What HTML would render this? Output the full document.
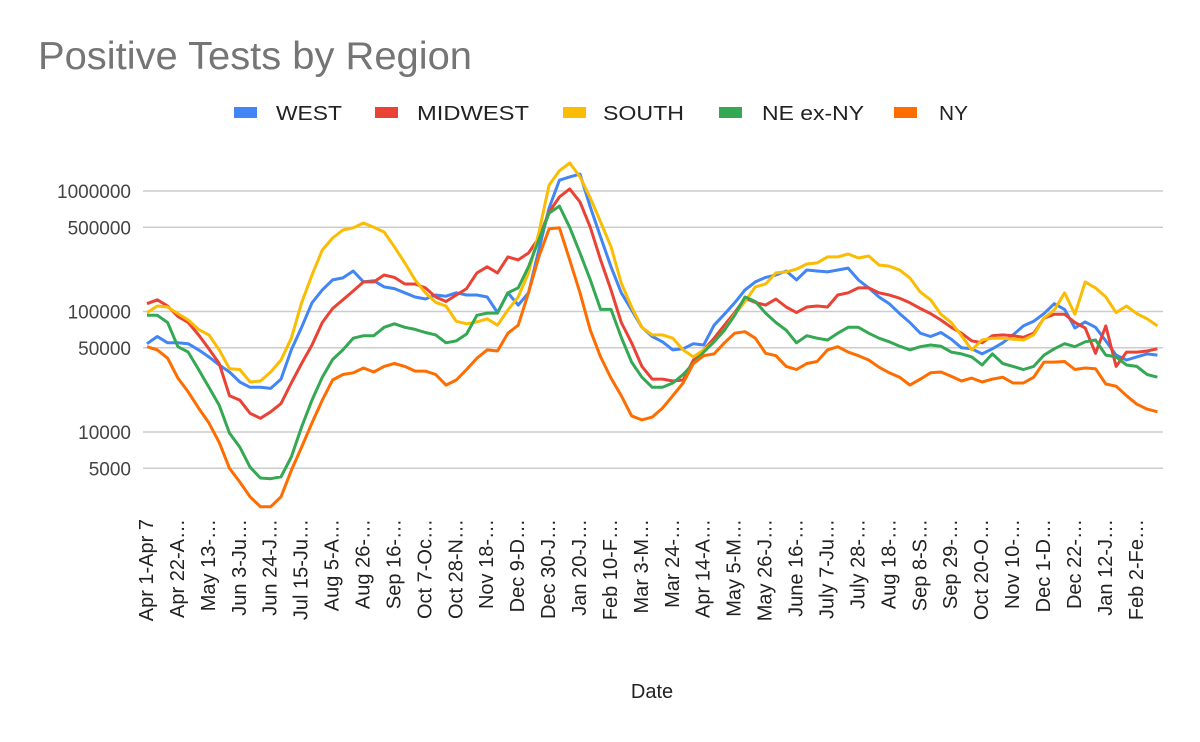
<!DOCTYPE html>
<html><head><meta charset="utf-8"><style>
html,body{margin:0;padding:0;background:#fff;}
svg{display:block;font-family:"Liberation Sans",Arial,sans-serif;}
</style></head><body>
<svg id="chart" width="1200" height="742" viewBox="0 0 1200 742" xmlns="http://www.w3.org/2000/svg">
<text x="38" y="69" font-size="39" fill="#757575" textLength="434" lengthAdjust="spacingAndGlyphs">Positive Tests by Region</text>
<g id="legend"></g>
<g id="grid"></g>
<g id="yticks"></g>
<g id="series"></g>
<g id="xticks"></g>
<text x="652" y="698" font-size="20" fill="#222" text-anchor="middle">Date</text>
</svg>
<script>
const seriesNames = ["WEST","MIDWEST","SOUTH","NE ex-NY","NY"];
const seriesColors = ["#4285f4","#ea4335","#fbbc04","#34a853","#ff6d01"];
const yTickValues = [5000,10000,50000,100000,500000,1000000];
const xTickLabels = ["Apr 1-Apr 7","Apr 22-A…","May 13-…","Jun 3-Ju…","Jun 24-J…","Jul 15-Ju…","Aug 5-A…","Aug 26-…","Sep 16-…","Oct 7-Oc…","Oct 28-N…","Nov 18-…","Dec 9-D…","Dec 30-J…","Jan 20-J…","Feb 10-F…","Mar 3-M…","Mar 24-…","Apr 14-A…","May 5-M…","May 26-J…","June 16-…","July 7-Ju…","July 28-…","Aug 18-…","Sep 8-S…","Sep 29-…","Oct 20-O…","Nov 10-…","Dec 1-D…","Dec 22-…","Jan 12-J…","Feb 2-Fe…"];
const west = [54000,62000,55000,55000,54000,48000,42000,36000,31500,26000,23500,23500,23000,27500,48000,74000,118000,151000,183000,190000,217000,176000,180000,160000,155000,143000,132000,127000,137000,134000,143000,137000,137000,132000,98000,143000,113000,143000,324000,723000,1230000,1310000,1380000,737000,415000,235000,143000,103000,74000,62000,56000,48000,49000,54000,52700,77000,95000,118000,151000,176000,192000,201000,217000,183000,221000,217000,213000,221000,229000,183000,157000,132000,116000,96000,81000,66000,62000,67000,59000,50000,49000,44500,49000,55000,64000,76000,83000,96000,116000,104000,73000,82000,74000,57000,43500,39600,42000,44500,43500];
const midwest = [116000,125000,111000,91000,81000,64000,49000,37000,20000,18400,14300,13000,14700,17200,25500,37000,52700,81000,106000,125000,148000,176000,176000,201000,192000,169000,169000,157000,132000,121000,137000,155000,209000,235000,209000,284000,268000,306000,407000,670000,892000,1040000,810000,500000,268000,151000,81000,55000,35000,27500,27500,26500,27000,39600,48000,60000,77000,98000,129000,119000,113000,127000,109000,98000,109000,111000,109000,137000,143000,157000,157000,143000,137000,129000,118000,106000,96000,85000,74000,66000,57000,55000,63000,64000,63000,61000,66000,88000,95000,95000,81000,73000,45000,76000,35000,46000,46000,47000,49000];
const south = [98000,111000,109000,96000,85000,71000,64000,48000,33500,33000,26000,26500,31500,39600,60000,118000,201000,324000,407000,475000,495000,543000,500000,457000,344000,253000,183000,143000,119000,111000,83000,79000,82000,87000,77000,103000,132000,209000,450000,1120000,1470000,1710000,1310000,875000,553000,344000,172000,109000,74000,64000,64000,60000,48000,42000,48000,56000,70000,95000,121000,160000,169000,209000,213000,225000,248000,253000,284000,284000,300000,278000,289000,243000,238000,221000,190000,145000,125000,95000,81000,63000,48000,58000,60000,60000,59000,58000,64000,88000,103000,143000,95000,176000,157000,132000,98000,111000,96000,87000,76000];
const neExNy = [93000,93000,81000,51000,46000,33000,23500,16700,9800,7500,5100,4150,4100,4250,6200,11000,18400,28500,40000,48000,60000,63000,63000,74000,79000,74000,71000,67000,64000,55000,57000,65000,93000,97000,97000,143000,157000,235000,392000,656000,750000,500000,306000,183000,104000,104000,61000,38000,28500,23500,23500,25500,30000,37000,46000,56000,70000,93000,132000,121000,97000,81000,70000,55000,63000,60000,58000,66000,74000,74000,66000,60000,56000,51500,48000,51000,52700,51500,46000,44500,42000,36000,44500,37000,35000,33000,35000,43500,49000,54000,51000,56000,58000,43500,42000,36000,35000,30000,28500];
const ny = [51000,48000,41000,28000,21500,15800,11900,8200,5000,3850,2900,2400,2400,2900,4800,7500,11900,18400,27000,30000,31000,34000,31500,35000,37000,35000,32000,32000,30000,24500,27000,33000,41000,48000,47000,66000,77000,143000,284000,485000,495000,268000,143000,70000,42000,28000,20000,13600,12600,13300,15800,20000,25500,37000,43000,44500,55000,66000,68000,60000,45000,43000,35000,33000,37000,38500,48000,51000,46000,43000,39600,34500,31000,28500,24500,27500,31000,31500,29000,26500,28000,26000,27500,28500,25500,25500,28500,38000,38000,38500,33000,34000,33500,25000,24000,20000,17000,15500,14700];
const allSeries = [west, midwest, south, neExNy, ny];

const NS = "http://www.w3.org/2000/svg";
const X0 = 147, DX = 10.31;
function xPos(i){ return X0 + i*DX; }
function yPos(v){ return 191 + (6 - Math.log10(v))*120.5; }
function mk(tag, attrs, parent){ const e=document.createElementNS(NS,tag); for(const k in attrs) e.setAttribute(k,attrs[k]); parent.appendChild(e); return e; }

const grid=document.getElementById('grid'), yt=document.getElementById('yticks');
yTickValues.forEach(v=>{
  const l=mk('line',{x1:143,x2:1163,y1:yPos(v),y2:yPos(v),stroke:'#cccccc','stroke-width':1.5},grid);
  
  
  const t=mk('text',{x:131,y:yPos(v)+7,'font-size':19,fill:'#444','text-anchor':'end'},yt);
  t.textContent=String(v);
  
  
});

const sg=document.getElementById('series');
allSeries.forEach((arr,s)=>{
  const d=arr.map((v,i)=>(i?'L':'M')+xPos(i).toFixed(1)+' '+yPos(v).toFixed(1)).join(' ');
  const p=mk('path',{d:d,fill:'none',stroke:seriesColors[s],'stroke-width':3,'stroke-linejoin':'round'},sg);
  
  
});

const xg=document.getElementById('xticks');
xTickLabels.forEach((lab,k)=>{
  const x=xPos(k*3)+6;
  const t=mk('text',{x:x,y:519,'font-size':20,fill:'#222','text-anchor':'end',transform:'rotate(-90 '+x+' 519)'},xg);
  t.textContent=lab;
  
  
});

const lg=document.getElementById('legend');
const legSw=[234,375,563,719,894], legTx=[276,417,603,762,939], legW=[66,112,81,102,29];
seriesNames.forEach((n,s)=>{
  const r=mk('rect',{x:legSw[s],y:107,width:23,height:11,fill:seriesColors[s]},lg);
  
  
  const t=mk('text',{x:legTx[s],y:120,'font-size':20,fill:'#222',textLength:legW[s],lengthAdjust:'spacingAndGlyphs'},lg);
  t.textContent=n;
  
  
});
</script>
</body></html>
